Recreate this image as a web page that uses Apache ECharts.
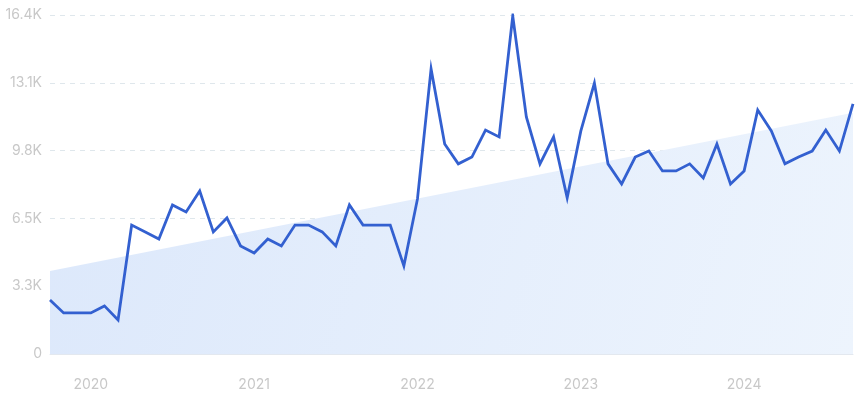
<!DOCTYPE html>
<html>
<head>
<meta charset="utf-8">
<script src="https://cdn.jsdelivr.net/npm/echarts@6/dist/echarts.min.js"></script>
<style>
html,body{margin:0;padding:0;background:#fff;}
#c{width:861px;height:401px;}
</style>
</head>
<body>
<div id="c"></div>
<script>
// Monthly values, Oct 2019 .. Sep 2024
const months = [
  '2019-10','2019-11','2019-12',
  '2020-01','2020-02','2020-03','2020-04','2020-05','2020-06','2020-07','2020-08','2020-09','2020-10','2020-11','2020-12',
  '2021-01','2021-02','2021-03','2021-04','2021-05','2021-06','2021-07','2021-08','2021-09','2021-10','2021-11','2021-12',
  '2022-01','2022-02','2022-03','2022-04','2022-05','2022-06','2022-07','2022-08','2022-09','2022-10','2022-11','2022-12',
  '2023-01','2023-02','2023-03','2023-04','2023-05','2023-06','2023-07','2023-08','2023-09','2023-10','2023-11','2023-12',
  '2024-01','2024-02','2024-03','2024-04','2024-05','2024-06','2024-07','2024-08','2024-09'
];
const values = [
  2600, 1980, 1980,
  1980, 2320, 1640, 6220, 5890, 5550, 7190, 6850, 7860, 5890, 6560, 5210,
  4870, 5550, 5210, 6220, 6220, 5890, 5210, 7190, 6220, 6220, 6220, 4250,
  7480, 13750, 10130, 9170, 9500, 10800, 10470, 16300, 11430, 9170, 10470, 7530,
  10750, 13070, 9170, 8200, 9500, 9790, 8830, 8830, 9170, 8490, 10130, 8200,
  8830, 11770, 10760, 9170, 9500, 9790, 10800, 9790, 12060
];
// Trend band: value at first and last month
const trendIdx = [0, 59];
const trendValues = [4000, 11630];
const yTicks = [0, 3270, 6540, 9810, 13080, 16350];
const yTickLabels = ['0', '3.3K', '6.5K', '9.8K', '13.1K', '16.4K'];

const chart = echarts.init(document.getElementById('c'), null, {renderer: 'canvas'});
const labelColor = '#c8c8c8';
const font = 'Inter, Roboto, sans-serif';
chart.setOption({
  animation: false,
  grid: {left: 50, right: 8, top: 15, bottom: 47, containLabel: false},
  xAxis: [{
    type: 'category',
    data: months,
    boundaryGap: false,
    axisLine: {show: true, lineStyle: {color: '#e3e8ef', width: 1}},
    axisTick: {show: false},
    splitLine: {show: false},
    axisLabel: {
      color: labelColor, fontFamily: font, fontSize: 14, margin: 24,
      interval: function (i, v) { return v.slice(5) === '01'; },
      formatter: function (v) { return v.slice(0, 4); }
    }
  }, {
    type: 'value', show: false, min: 0, max: months.length - 1
  }],
  yAxis: {
    type: 'value',
    min: yTicks[0], max: yTicks[yTicks.length - 1], interval: yTicks[1] - yTicks[0],
    axisLine: {show: false}, axisTick: {show: false},
    splitLine: {show: true, lineStyle: {color: '#dfe7ec', type: [5, 5], width: 1}},
    axisLabel: {
      color: labelColor, fontFamily: font, fontSize: 14, margin: 8,
      formatter: function (v) {
        const k = yTicks.indexOf(v);
        return k >= 0 ? yTickLabels[k] : '';
      }
    }
  },
  series: [{
    type: 'line',
    xAxisIndex: 1,
    data: trendIdx.map((x, i) => [x, trendValues[i]]),
    symbol: 'none',
    lineStyle: {width: 0, opacity: 0},
    areaStyle: {
      opacity: 1,
      color: new echarts.graphic.LinearGradient(0, 0, 1, 1, [
        {offset: 0, color: '#dce8fb'},
        {offset: 1, color: '#edf4fd'}
      ])
    },
    silent: true,
    z: 1
  }, {
    type: 'line',
    data: values,
    symbol: 'none',
    lineStyle: {color: '#3360d0', width: 2.8, join: 'miter'},
    z: 3
  }]
});
</script>
</body>
</html>
